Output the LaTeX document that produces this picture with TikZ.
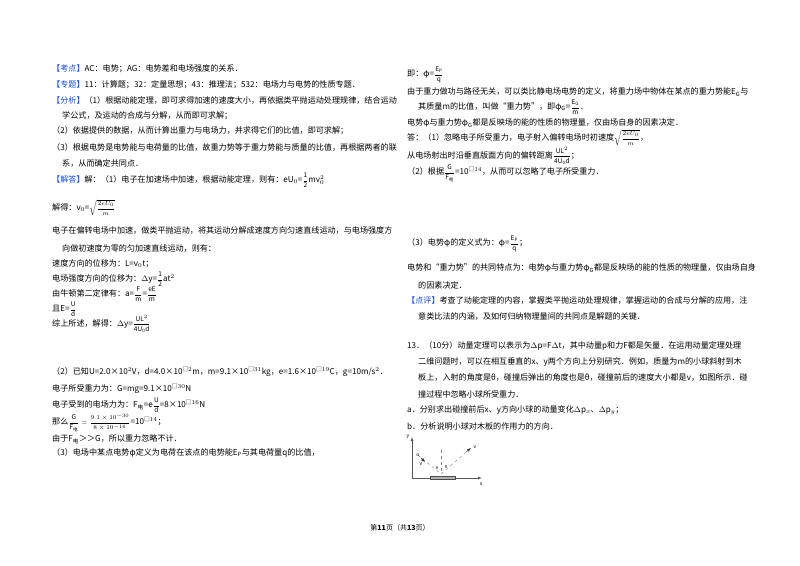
\documentclass[tikz,border=0pt]{standalone}
\usepackage{fontspec}
\setmainfont{Noto Sans CJK SC}
\usepackage{amsmath}
\begin{document}
\begin{tikzpicture}[x=1pt,y=-1pt,font=\fontsize{8.1}{10}\selectfont,
  tx/.style={anchor=west,inner sep=0pt}]
\fill[white] (0,0) rectangle (800,565);
\useasboundingbox (0,0) rectangle (800,565);
\newcommand{\T}[3]{\node[tx] at (#1,#2) {#3};}
\newcommand{\B}[1]{\textcolor[rgb]{0.1,0.3,0.85}{【#1】}}
\newcommand{\fm}[1]{{\fontsize{6.5}{7}\selectfont$\displaystyle #1$}}
\newcommand{\fr}[2]{\fm{\frac{\mathrm{#1}}{\mathrm{#2}}}}
% left column
\T{52}{69}{\B{考点}AC：电势；AG：电势差和电场强度的关系．}
\T{52}{85}{\B{专题}11：计算题；32：定量思想；43：推理法；532：电场力与电势的性质专题．}
\T{52}{100}{\B{分析}（1）根据动能定理，即可求得加速的速度大小，再依据类平抛运动处理规律，结合运动}
\T{62}{116}{学公式，及运动的合成与分解，从而即可求解；}
\T{52}{131}{（2）依据提供的数据，从而计算出重力与电场力，并求得它们的比值，即可求解；}
\T{52}{147}{（3）根据电势是电势能与电荷量的比值，故重力势等于重力势能与质量的比值，再根据两者的联}
\T{62}{163}{系，从而确定共同点．}
\T{52}{180}{\B{解答}解：（1）电子在加速场中加速，根据动能定理，则有：eU$_0$=\fr{1}{2}mv$_0^2$}
\T{52}{208}{解得：v$_0$=\fm{\sqrt{\frac{2eU_0}{m}}}}
\T{52}{231}{电子在偏转电场中加速，做类平抛运动，将其运动分解成速度方向匀速直线运动，与电场强度方}
\T{62}{249}{向做初速度为零的匀加速直线运动，则有：}
\T{52}{264}{速度方向的位移为：L=v$_0$t；}
\T{52}{279}{电场强度方向的位移为：$\Delta$y=\fr{1}{2}at$^2$}
\T{52}{294}{由牛顿第二定律有：a=\fr{F}{m}=\fr{eE}{m}}
\T{52}{309}{且E=\fr{U}{d}}
\T{52}{324}{综上所述，解得：$\Delta$y=\fm{\frac{\mathrm{UL}^2}{\mathrm{4U_0d}}}}
\T{52}{372}{（2）已知U=2.0×10$^2$V，d=4.0×10$^{□2}$m，m=9.1×10$^{□31}$kg，e=1.6×10$^{□19}$C，g=10m/s$^2$．}
\T{52}{389}{电子所受重力为：G=mg=9.1×10$^{□30}$N}
\T{52}{405}{电子受到的电场力为：F$_{\text{电}}$=e\fr{U}{d}=8×10$^{□16}$N}
\T{52}{423}{那么\fm{\frac{\mathrm{G}}{\mathrm{F}_{\text{电}}}=\frac{9.1\times10^{-30}}{8\times10^{-16}}}=10$^{□14}$；}
\T{52}{439}{由于F$_{\text{电}}$＞＞G，所以重力忽略不计．}
\T{52}{453}{（3）电场中某点电势φ定义为电荷在该点的电势能E$_\mathrm{P}$与其电荷量q的比值，}
% right column
\T{407}{75}{即：φ=\fr{E_P}{q}}
\T{407}{92}{由于重力做功与路径无关，可以类比静电场电势的定义，将重力场中物体在某点的重力势能E$_\mathrm{G}$与}
\T{418}{107}{其质量m的比值，叫做“重力势”，即φ$_\mathrm{G}$=\fr{E_G}{m}．}
\T{407}{123}{电势φ与重力势φ$_\mathrm{G}$都是反映场的能的性质的物理量，仅由场自身的因素决定．}
\T{407}{138}{答：（1）忽略电子所受重力，电子射入偏转电场时初速度\fm{\sqrt{\frac{2eU_0}{m}}}，}
\T{407}{156}{从电场射出时沿垂直版面方向的偏转距离\fm{\frac{\mathrm{UL}^2}{\mathrm{4U_0d}}}；}
\T{407}{173}{（2）根据\fm{\frac{\mathrm{G}}{\mathrm{F}_{\text{电}}}}=10$^{□14}$，从而可以忽略了电子所受重力．}
\T{407}{244}{（3）电势φ的定义式为：φ=\fr{E_P}{q}；}
\T{407}{268}{电势和“重力势”的共同特点为：电势φ与重力势φ$_\mathrm{G}$都是反映场的能的性质的物理量，仅由场自身}
\T{418}{285}{的因素决定．}
\T{407}{300}{\B{点评}考查了动能定理的内容，掌握类平抛运动处理规律，掌握运动的合成与分解的应用，注}
\T{418}{316}{意类比法的内涵，及如何归纳物理量间的共同点是解题的关键．}
\T{407}{346}{13．（10分）动量定理可以表示为$\Delta$p=F$\Delta$t，其中动量p和力F都是矢量．在运用动量定理处理}
\T{418}{362}{二维问题时，可以在相互垂直的x、y两个方向上分别研究．例如，质量为m的小球斜射到木}
\T{418}{378}{板上，入射的角度是θ，碰撞后弹出的角度也是θ，碰撞前后的速度大小都是v，如图所示．碰}
\T{418}{394}{撞过程中忽略小球所受重力．}
\T{407}{410}{a．分别求出碰撞前后x、y方向小球的动量变化$\Delta$p$_x$、$\Delta$p$_y$；}
\T{407}{426}{b．分析说明小球对木板的作用力的方向．}
% figure
\coordinate (O) at (412,478);
\coordinate (Y) at (412,437);
\coordinate (X) at (482,478);
\draw[-latex,gray!70!black] (O) -- (Y);
\draw[-latex,gray!70!black] (O) -- (X);
\node[font=\tiny] (ylab) at (408,437) {y};
\node[font=\tiny] (xlab) at (481,484) {x};
\draw[fill=gray!60,draw=gray!60!black] (430,476.5) rectangle (455,479.5);
\coordinate (P) at (441,474);
\coordinate (A) at (418,455);
\coordinate (C) at (472,447);
\draw[dashed,gray] (441,450) -- (P);
\draw[dashed,gray] (A) -- (P) -- (C);
\draw[-latex,gray!40!black] (421,458) -- (425,462);
\draw[-latex,gray!40!black] (466,452) -- (471,448);
\node[font=\tiny,inner sep=0] (ball) at (418,455) {o};
\node[font=\tiny,inner sep=0] (v1) at (421,464) {v};
\node[font=\tiny,inner sep=0] (v2) at (475,447) {v};
\node[font=\fontsize{4}{4}\selectfont,inner sep=0] (t1) at (437,468) {θ};
\node[font=\fontsize{4}{4}\selectfont,inner sep=0] (t2) at (446,467) {θ};
% footer
\node[font=\fontsize{7}{8}\selectfont] (foot) at (400,528) {第\textbf{11}页（共\textbf{13}页）};
\end{tikzpicture}
\end{document}
